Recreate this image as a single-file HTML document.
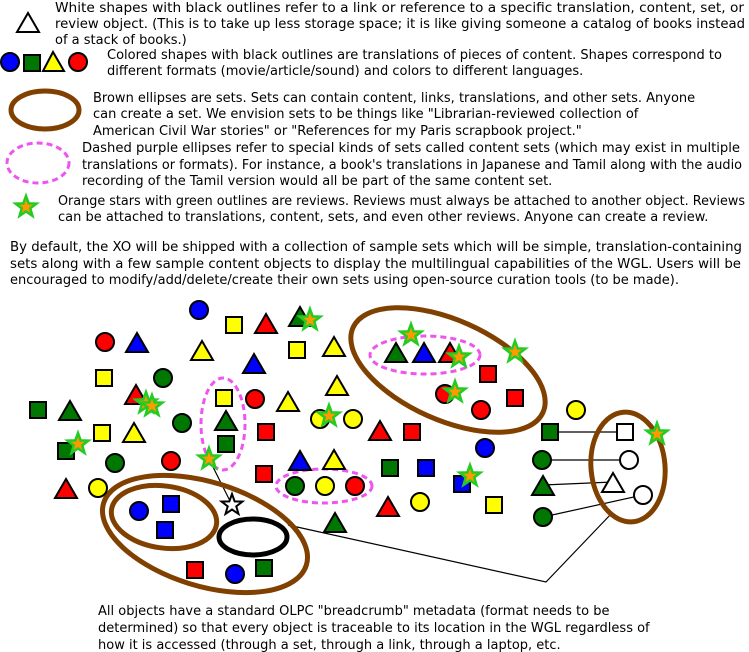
<!DOCTYPE html>
<html><head><meta charset="utf-8"><style>
html,body{margin:0;padding:0;background:#fff;}
svg{display:block;}
text{font-family:"DejaVu Sans","Liberation Sans",sans-serif;font-size:13px;fill:#000;}
</style></head><body>
<svg width="749" height="652" viewBox="0 0 749 652" xmlns="http://www.w3.org/2000/svg">
<defs>
<path id="st" d="M0,-11 L2.65,-3.64 L10.46,-3.4 L4.28,1.39 L6.47,8.9 L0,4.5 L-6.47,8.9 L-4.28,1.39 L-10.46,-3.4 L-2.65,-3.64Z"/>
</defs>
<text x="55" y="12" textLength="689" lengthAdjust="spacingAndGlyphs">White shapes with black outlines refer to a link or reference to a specific translation, content, set, or</text>
<text x="55" y="28" textLength="690" lengthAdjust="spacingAndGlyphs">review object. (This is to take up less storage space; it is like giving someone a catalog of books instead</text>
<text x="55" y="44">of a stack of books.)</text>
<text x="107" y="59">Colored shapes with black outlines are translations of pieces of content. Shapes correspond to</text>
<text x="107" y="75">different formats (movie/article/sound) and colors to different languages.</text>
<text x="93" y="102">Brown ellipses are sets. Sets can contain content, links, translations, and other sets. Anyone</text>
<text x="93" y="118">can create a set. We envision sets to be things like "Librarian-reviewed collection of</text>
<text x="93" y="135">American Civil War stories" or "References for my Paris scrapbook project."</text>
<text x="82" y="152" textLength="658" lengthAdjust="spacingAndGlyphs">Dashed purple ellipses refer to special kinds of sets called content sets (which may exist in multiple</text>
<text x="82" y="169" textLength="660" lengthAdjust="spacingAndGlyphs">translations or formats). For instance, a book's translations in Japanese and Tamil along with the audio</text>
<text x="82" y="185">recording of the Tamil version would all be part of the same content set.</text>
<text x="58" y="205" textLength="687" lengthAdjust="spacingAndGlyphs">Orange stars with green outlines are reviews. Reviews must always be attached to another object. Reviews</text>
<text x="58" y="221">can be attached to translations, content, sets, and even other reviews. Anyone can create a review.</text>
<text x="10" y="251" textLength="732" lengthAdjust="spacingAndGlyphs">By default, the XO will be shipped with a collection of sample sets which will be simple, translation-containing</text>
<text x="10" y="268" textLength="731" lengthAdjust="spacingAndGlyphs">sets along with a few sample content objects to display the multilingual capabilities of the WGL. Users will be</text>
<text x="10" y="284">encouraged to modify/add/delete/create their own sets using open-source curation tools (to be made).</text>
<text x="98" y="615">All objects have a standard OLPC "breadcrumb" metadata (format needs to be</text>
<text x="98" y="632">determined) so that every object is traceable to its location in the WGL regardless of</text>
<text x="98" y="649">how it is accessed (through a set, through a link, through a laptop, etc.</text>

<g stroke="#000" stroke-width="2">
<polygon points="28,13 17,32 39,32" fill="#fff"/>
<circle cx="10" cy="62" r="9" fill="#00f"/>
<rect x="24" y="55" width="16" height="16" fill="#070"/>
<polygon points="53,52 43,71 64,71" fill="#ff0"/>
<circle cx="78" cy="62" r="9" fill="#f00"/>
</g>
<ellipse cx="45" cy="110" rx="34" ry="19" fill="none" stroke="#804000" stroke-width="5"/>
<ellipse cx="38" cy="163" rx="31" ry="20" fill="none" stroke="#e5e" stroke-width="3" stroke-dasharray="6,4"/>
<use href="#st" transform="translate(26,207)" fill="#f90" stroke="#2c2" stroke-width="2.5"/>

<g stroke="#000" stroke-width="1.2" fill="none">
<line x1="209" y1="459" x2="232" y2="505"/>
<line x1="550" y1="432" x2="625" y2="432"/>
<line x1="542" y1="460" x2="629" y2="460"/>
<line x1="543" y1="485" x2="613" y2="482"/>
<line x1="643" y1="495" x2="543" y2="517"/>
<polyline points="612,513 546,582 288,525"/>
</g>

<g fill="none">
<ellipse cx="448" cy="370" rx="104" ry="50" transform="rotate(24 448 370)" stroke="#804000" stroke-width="5"/>
<ellipse cx="425" cy="355" rx="55" ry="19" stroke="#e5e" stroke-width="3" stroke-dasharray="6,4"/>
<ellipse cx="223" cy="424" rx="22" ry="46" stroke="#e5e" stroke-width="3" stroke-dasharray="6,4"/>
<ellipse cx="324" cy="486" rx="48" ry="17" stroke="#e5e" stroke-width="3" stroke-dasharray="6,4"/>
<ellipse cx="628" cy="467" rx="37" ry="55" transform="rotate(-5 628 467)" stroke="#804000" stroke-width="5"/>
<ellipse cx="205" cy="534" rx="106" ry="52" transform="rotate(17 205 534)" stroke="#804000" stroke-width="5"/>
<ellipse cx="164" cy="517" rx="53" ry="31" transform="rotate(8 164 517)" stroke="#804000" stroke-width="5"/>
<ellipse cx="253" cy="537" rx="34" ry="18" stroke="#000" stroke-width="5"/>
</g>

<g stroke="#000" stroke-width="2">
<circle cx="199" cy="310" r="9" fill="#00f"/>
<circle cx="105" cy="342" r="9" fill="#f00"/>
<circle cx="163" cy="378" r="9" fill="#070"/>
<circle cx="255" cy="399" r="9" fill="#f00"/>
<circle cx="182" cy="423" r="9" fill="#070"/>
<circle cx="320" cy="419" r="9" fill="#ff0"/>
<circle cx="353" cy="419" r="9" fill="#ff0"/>
<circle cx="115" cy="463" r="9" fill="#070"/>
<circle cx="171" cy="461" r="9" fill="#f00"/>
<circle cx="295" cy="486" r="9" fill="#070"/>
<circle cx="325" cy="486" r="9" fill="#ff0"/>
<circle cx="355" cy="486" r="9" fill="#f00"/>
<circle cx="98" cy="488" r="9" fill="#ff0"/>
<circle cx="445" cy="394" r="9" fill="#f00"/>
<circle cx="481" cy="410" r="9" fill="#f00"/>
<circle cx="576" cy="410" r="9" fill="#ff0"/>
<circle cx="485" cy="448" r="9" fill="#00f"/>
<circle cx="542" cy="460" r="9" fill="#070"/>
<circle cx="420" cy="502" r="9" fill="#ff0"/>
<circle cx="543" cy="517" r="9" fill="#070"/>
<circle cx="629" cy="460" r="9" fill="#fff"/>
<circle cx="643" cy="495" r="9" fill="#fff"/>
<circle cx="139" cy="511" r="9" fill="#00f"/>
<circle cx="235" cy="574" r="9" fill="#00f"/>
<rect x="226" y="317" width="16" height="16" fill="#ff0"/>
<rect x="289" y="342" width="16" height="16" fill="#ff0"/>
<rect x="96" y="370" width="16" height="16" fill="#ff0"/>
<rect x="216" y="390" width="16" height="16" fill="#ff0"/>
<rect x="30" y="402" width="16" height="16" fill="#070"/>
<rect x="94" y="425" width="16" height="16" fill="#ff0"/>
<rect x="258" y="424" width="16" height="16" fill="#f00"/>
<rect x="218" y="436" width="16" height="16" fill="#070"/>
<rect x="58" y="443" width="16" height="16" fill="#070"/>
<rect x="256" y="466" width="16" height="16" fill="#f00"/>
<rect x="480" y="366" width="16" height="16" fill="#f00"/>
<rect x="507" y="390" width="16" height="16" fill="#f00"/>
<rect x="404" y="424" width="16" height="16" fill="#f00"/>
<rect x="542" y="424" width="16" height="16" fill="#070"/>
<rect x="617" y="424" width="16" height="16" fill="#fff"/>
<rect x="382" y="460" width="16" height="16" fill="#070"/>
<rect x="418" y="460" width="16" height="16" fill="#00f"/>
<rect x="454" y="476" width="16" height="16" fill="#00f"/>
<rect x="486" y="497" width="16" height="16" fill="#ff0"/>
<rect x="163" y="496" width="16" height="16" fill="#00f"/>
<rect x="157" y="522" width="16" height="16" fill="#00f"/>
<rect x="187" y="562" width="16" height="16" fill="#f00"/>
<rect x="256" y="560" width="16" height="16" fill="#070"/>
<polygon points="266,314 255,333 277,333" fill="#f00"/>
<polygon points="300,307 289,326 311,326" fill="#070"/>
<polygon points="137,333 126,352 148,352" fill="#00f"/>
<polygon points="202,341 191,360 213,360" fill="#ff0"/>
<polygon points="334,337 323,356 345,356" fill="#ff0"/>
<polygon points="254,354 243,373 265,373" fill="#00f"/>
<polygon points="337,376 326,395 348,395" fill="#ff0"/>
<polygon points="136,385 125,404 147,404" fill="#f00"/>
<polygon points="288,392 277,411 299,411" fill="#ff0"/>
<polygon points="70,401 59,420 81,420" fill="#070"/>
<polygon points="226,411 215,430 237,430" fill="#070"/>
<polygon points="134,423 123,442 145,442" fill="#ff0"/>
<polygon points="380,421 369,440 391,440" fill="#f00"/>
<polygon points="300,451 289,470 311,470" fill="#00f"/>
<polygon points="334,450 323,469 345,469" fill="#ff0"/>
<polygon points="66,479 55,498 77,498" fill="#f00"/>
<polygon points="388,497 377,516 399,516" fill="#f00"/>
<polygon points="335,513 324,532 346,532" fill="#070"/>
<polygon points="396,343 385,362 407,362" fill="#070"/>
<polygon points="424,343 413,362 435,362" fill="#00f"/>
<polygon points="450,343 439,362 461,362" fill="#f00"/>
<polygon points="543,476 532,495 554,495" fill="#070"/>
<polygon points="613,473 602,492 624,492" fill="#fff"/>
</g>
<g fill="#f90" stroke="#2c2" stroke-width="2.5">
<use href="#st" transform="translate(310,320)"/>
<use href="#st" transform="translate(146,403)"/>
<use href="#st" transform="translate(152,406)"/>
<use href="#st" transform="translate(78,444)"/>
<use href="#st" transform="translate(209,459)"/>
<use href="#st" transform="translate(329,416)"/>
<use href="#st" transform="translate(411,335)"/>
<use href="#st" transform="translate(459,357)"/>
<use href="#st" transform="translate(515,352)"/>
<use href="#st" transform="translate(455,392)"/>
<use href="#st" transform="translate(470,476)"/>
<use href="#st" transform="translate(657,434)"/>
</g>
<use href="#st" transform="translate(232,505)" fill="#fff" stroke="#000" stroke-width="2"/>
</svg>
</body></html>
